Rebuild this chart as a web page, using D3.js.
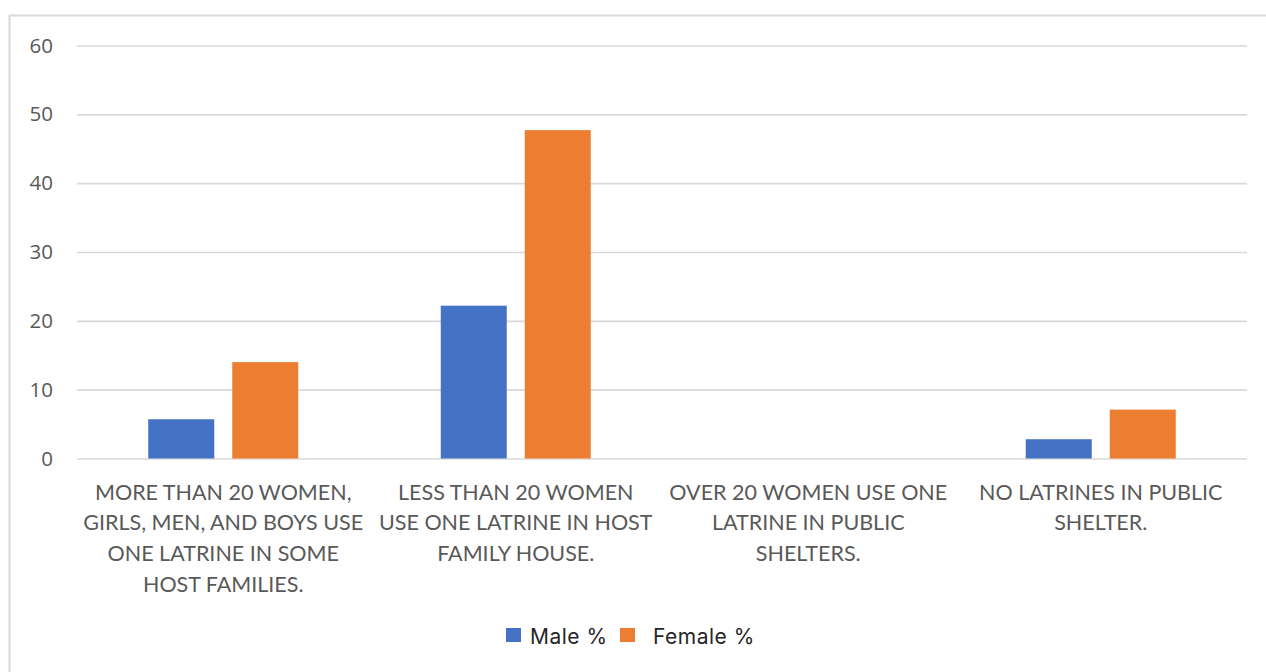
<!DOCTYPE html>
<html>
<head>
<meta charset="utf-8">
<script src="https://cdn.jsdelivr.net/npm/d3@7"></script>
<style>
  html, body { margin: 0; padding: 0; background: #fff; }
  svg { display: block; }
</style>
</head>
<body>
<svg id="chart" width="1266" height="672"></svg>
<script>
// Category labels (line breaks as they are set under the axis)
const categories = [
  "MORE THAN 20 WOMEN,|GIRLS, MEN, AND BOYS USE|ONE LATRINE IN SOME|HOST FAMILIES.",
  "LESS THAN 20 WOMEN|USE ONE LATRINE IN HOST|FAMILY HOUSE.",
  "OVER 20 WOMEN USE ONE|LATRINE IN PUBLIC|SHELTERS.",
  "NO LATRINES IN PUBLIC|SHELTER."
];
const seriesNames = ["Male %", "Female %"];
const maleValues = [5.7, 22.2, 0, 2.8];
const femaleValues = [14.0, 47.7, 0, 7.1];
const yTicks = [0, 10, 20, 30, 40, 50, 60];
const seriesColors = ["#4472C4", "#ED7D31"];

const svg = d3.select("#chart");

// Outer chart-area frame
svg.append("rect")
  .attr("x", 9.5).attr("y", 15.5)
  .attr("width", 1300).attr("height", 700)
  .attr("fill", "#fff")
  .attr("stroke", "#d9d9d9")
  .attr("stroke-width", 2);

const plot = { left: 77, right: 1247, top: 45.5, bottom: 458.5 };

const x0 = d3.scaleBand()
  .domain(d3.range(categories.length))
  .range([plot.left, plot.right])
  .paddingInner(0).paddingOuter(0);

const groupWidth = 150;
const x1 = d3.scaleBand()
  .domain(seriesNames)
  .range([0, groupWidth])
  .paddingInner(18 / 84)
  .paddingOuter(0);

const y = d3.scaleLinear().domain([0, 60]).range([plot.bottom, plot.top]);

// Gridlines + y labels via axis
const yAxis = d3.axisLeft(y)
  .tickValues(yTicks)
  .tickSize(-(plot.right - plot.left))
  .tickPadding(24)
  .tickFormat(d3.format("d"));

const gy = svg.append("g")
  .attr("transform", `translate(${plot.left},0)`)
  .call(yAxis);
gy.select(".domain").remove();
gy.selectAll(".tick line")
  .attr("stroke", "#d9d9d9")
  .attr("stroke-width", 1.6);
gy.selectAll(".tick text")
  .attr("fill", "#595959")
  .style("font-family", "'Open Sans', sans-serif")
  .style("font-size", "20.5px");

// Bars
const rows = categories.map((c, i) => ({ i, values: [maleValues[i], femaleValues[i]] }));
const groupOffset = (x0.bandwidth() - groupWidth) / 2;

const groups = svg.append("g").selectAll("g")
  .data(rows)
  .join("g")
  .attr("transform", d => `translate(${x0(d.i) + groupOffset},0)`);

groups.selectAll("rect")
  .data(d => d.values.map((v, k) => ({ key: seriesNames[k], value: v, k })))
  .join("rect")
  .attr("x", d => x1(d.key))
  .attr("width", x1.bandwidth())
  .attr("y", d => y(d.value))
  .attr("height", d => y(0) - y(d.value))
  .attr("fill", d => seriesColors[d.k]);

// Category labels
const labelG = svg.append("g");
categories.forEach((c, i) => {
  const lines = c.split("|");
  const t = labelG.append("text")
    .attr("text-anchor", "middle")
    .attr("fill", "#595959")
    .style("font-family", "Lato, sans-serif")
    .style("font-size", "21.5px");
  lines.forEach((ln, j) => {
    t.append("tspan")
      .attr("x", x0(i) + x0.bandwidth() / 2)
      .attr("y", 499.5 + j * 30.7)
      .text(ln);
  });
});

// Legend
const legend = svg.append("g");
const legendStarts = [506, 620];
seriesNames.forEach((name, k) => {
  legend.append("rect")
    .attr("x", legendStarts[k]).attr("y", 628)
    .attr("width", 15).attr("height", 14)
    .attr("fill", seriesColors[k]);
  legend.append("text")
    .attr("x", legendStarts[k] + (k === 0 ? 24 : 33))
    .attr("y", 644)
    .attr("fill", "#262626")
    .style("font-family", "Inter, sans-serif")
    .style("font-size", "21px")
    .style("letter-spacing", "0.5px")
    .text(name);
});
</script>
</body>
</html>
